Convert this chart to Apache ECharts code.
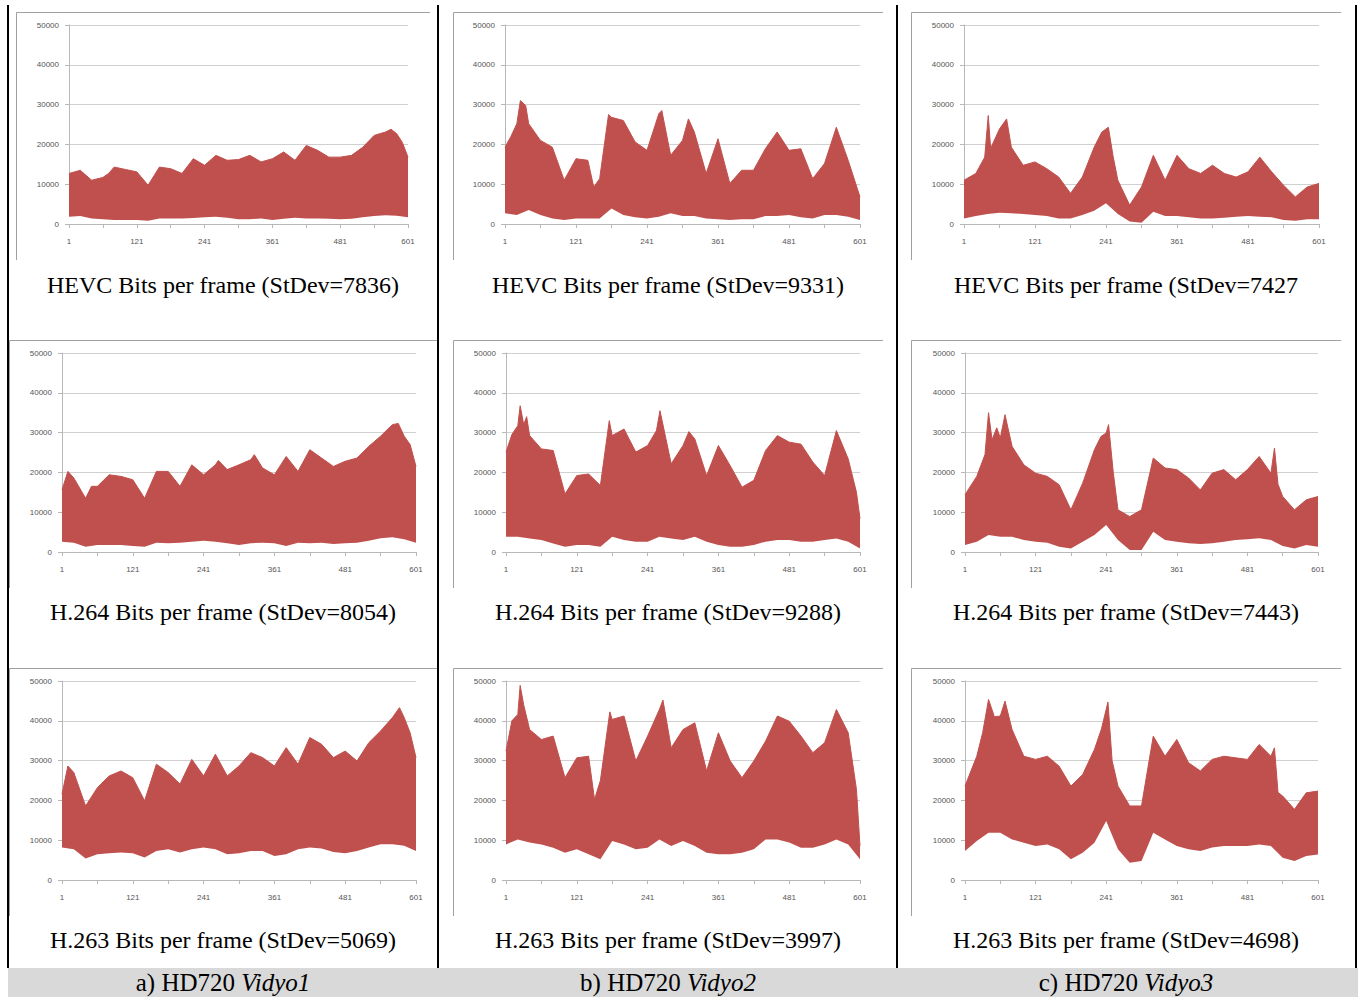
<!DOCTYPE html>
<html>
<head>
<meta charset="utf-8">
<script src="https://cdn.jsdelivr.net/npm/echarts@6/dist/echarts.min.js"></script>
<style>
html, body { margin: 0; padding: 0; background: #fff; }
#chart { width: 1358px; height: 997px; }
</style>
</head>
<body>
<div id="chart"></div>
<script>
// frames where the lower envelope was read (every 20 frames)
var frames = [1,21,41,61,81,101,121,141,161,181,201,221,241,261,281,301,321,341,361,381,401,421,441,461,481,501,521,541,561,581,601];
var xLabelValues = [1,121,241,361,481,601];
var xTickValues = [1,61,121,181,241,301,361,421,481,541,601];

var captions = [
    'HEVC Bits per frame (StDev=7836)', 'HEVC Bits per frame (StDev=9331)', 'HEVC Bits per frame (StDev=7427',
    'H.264 Bits per frame (StDev=8054)', 'H.264 Bits per frame (StDev=9288)', 'H.264 Bits per frame (StDev=7443)',
    'H.263 Bits per frame (StDev=5069)', 'H.263 Bits per frame (StDev=3997)', 'H.263 Bits per frame (StDev=4698)'
];
var columnPrefix = ['a) HD720 ', 'b) HD720 ', 'c) HD720 '];
var columnName = ['Vidyo1', 'Vidyo2', 'Vidyo3'];

// upper envelope (peaks of the bits per frame), [frame, bits]
var hevcV1Upper = [[1,12700],[21,13500],[41,11000],[61,11700],[71,12700],[81,14300],[101,13700],[121,13100],[141,9750],[161,14300],[181,13900],[201,12700],[221,16400],[241,14750],[261,17250],[281,16000],[301,16200],[321,17250],[341,15600],[361,16400],[381,18100],[401,16000],[421,19750],[441,18500],[461,16800],[481,16800],[501,17250],[521,19300],[541,22250],[561,23100],[571,23800],[581,22700],[591,20500],[601,16800]];
var hevcV2Upper = [[1,19300],[11,22000],[21,25200],[27,31000],[36,29750],[41,25200],[61,21000],[81,19300],[101,11000],[121,16400],[141,16000],[151,9300],[161,11400],[176,27500],[181,26800],[201,26000],[221,20600],[241,18500],[261,27700],[266,28500],[281,17250],[301,21000],[311,26400],[321,23100],[341,12700],[361,21400],[381,10200],[401,13500],[421,13500],[441,18900],[461,23100],[481,18500],[501,18900],[521,11400],[541,15200],[561,24300],[581,16000],[601,6800]];
var hevcV3Upper = [[1,11000],[21,12700],[36,16800],[42,27250],[46,19000],[61,23900],[73,26400],[81,19300],[101,14750],[121,15600],[141,13900],[161,11800],[181,7700],[201,11800],[221,19300],[234,23100],[245,24300],[253,17000],[261,11000],[281,4750],[301,9300],[321,17250],[341,11000],[361,17250],[381,13900],[401,12700],[421,14750],[441,12700],[461,11800],[481,13100],[501,16800],[521,13100],[541,9750],[561,6800],[581,9300],[601,10200]];
var h264V1Upper = [[1,15600],[11,20250],[21,18600],[41,13500],[51,16500],[61,16500],[81,19400],[101,19000],[121,18150],[141,13500],[161,20250],[181,20250],[201,16500],[221,21900],[241,19400],[261,21900],[266,23000],[281,20700],[301,21900],[321,23200],[327,24450],[341,21100],[361,19400],[381,24000],[401,20250],[421,25700],[441,23600],[461,21500],[481,22800],[501,23600],[521,26550],[541,29100],[561,32000],[571,32300],[581,29100],[591,27000],[601,21500]];
var h264V2Upper = [[1,25100],[11,29500],[21,31750],[25,36750],[31,32000],[36,34000],[41,29250],[61,25900],[81,25500],[101,14600],[121,19200],[141,19600],[161,16700],[176,33000],[181,29250],[201,30900],[221,25100],[241,26750],[256,30500],[262,35500],[281,22150],[301,26750],[311,30250],[321,28400],[341,19200],[361,26750],[381,21700],[401,16300],[421,18000],[441,25500],[461,29250],[481,27600],[501,27100],[521,22600],[541,19200],[561,30500],[581,23400],[595,15000],[601,8400]];
var h264V3Upper = [[1,14400],[21,19000],[35,24500],[41,35000],[47,28200],[55,31200],[61,28650],[69,34500],[81,26550],[101,21900],[121,19800],[141,19000],[161,16900],[181,10600],[201,17300],[221,25700],[232,29000],[241,29900],[245,32000],[253,20000],[261,10600],[281,8900],[301,10600],[321,23600],[341,21100],[361,20700],[381,18600],[401,15600],[421,19800],[441,20700],[461,18150],[481,20700],[501,24000],[521,19800],[527,26100],[533,17000],[541,13950],[561,10600],[581,13100],[601,13950]];
var h263V1Upper = [[1,21550],[11,28650],[21,27000],[41,18600],[61,23200],[81,26150],[101,27400],[121,25700],[141,19900],[161,29100],[181,27000],[201,24100],[221,30300],[241,26150],[261,31600],[281,26150],[301,28650],[321,32000],[341,30750],[361,28650],[381,33250],[401,29100],[421,35800],[441,34100],[461,30750],[481,32400],[501,29900],[521,34500],[541,37450],[561,40800],[573,43300],[581,40800],[591,37000],[601,30750]];
var h263V2Upper = [[1,32400],[11,40000],[21,41600],[25,48900],[31,44000],[41,37800],[61,35300],[81,36150],[101,25700],[121,30700],[141,31100],[151,20250],[161,25000],[177,42250],[181,40350],[201,41200],[221,29900],[241,36150],[261,42850],[267,45200],[281,33200],[301,37800],[321,39500],[341,27400],[361,37000],[381,29900],[401,25700],[421,29900],[441,34900],[461,41200],[481,39900],[501,36150],[521,32000],[541,34500],[561,42850],[581,37000],[595,22750],[601,8500]];
var h263V3Upper = [[1,23600],[21,31100],[31,37000],[41,45350],[51,41000],[61,41200],[69,44950],[81,37800],[101,31100],[121,30300],[141,31100],[161,28600],[181,23600],[201,26500],[221,32800],[233,38000],[244,44700],[251,30000],[261,23600],[281,18600],[301,18600],[321,36150],[341,31100],[361,35300],[381,29450],[401,27400],[421,30300],[441,31100],[461,30700],[481,30300],[501,34050],[521,31100],[527,33200],[533,22000],[541,21100],[561,17750],[581,21900],[601,22350]];

// lower envelope, one value per entry of frames
var hevcV1Lower = [1800,2000,1400,1200,1000,1000,1000,800,1400,1400,1400,1500,1700,1800,1600,1200,1200,1400,1000,1300,1600,1400,1400,1300,1200,1300,1700,2000,2200,2100,1700];
var hevcV2Lower = [2700,2250,3500,2250,1400,1000,1400,1400,1400,3900,2250,1700,1400,1800,2700,2000,2000,1400,1200,1000,1200,1200,2000,2000,2250,1700,1400,2250,2250,1800,1000];
var hevcV3Lower = [1400,2000,2500,2800,2700,2500,2250,2000,1400,1400,2250,3300,5200,2500,600,300,3100,2000,2000,1700,1400,1400,1600,1800,2000,1800,1700,1000,800,1200,1200];
var h264V1Lower = [2600,2350,1350,1750,1750,1750,1500,1350,2350,2200,2350,2600,2850,2600,2200,1750,2200,2350,2200,1500,2350,2200,2350,2000,2200,2350,2850,3450,3700,3200,2350];
var h264V2Lower = [3850,3850,3400,3000,2150,1350,1750,1750,1350,3850,3000,2600,2600,3850,3400,3000,3850,2600,1750,1350,1350,1750,2600,3000,3000,2600,2600,3000,3400,2600,900];
var h264V3Lower = [1750,2600,4300,3850,3850,3000,2600,2350,1350,900,2600,4300,6800,3000,500,500,5100,3000,2600,2200,2000,2200,2600,3000,3200,3450,3000,1500,900,1750,1350];
var h263V1Lower = [8150,7750,5400,6500,6750,6900,6750,5650,7300,7750,6900,7750,8150,7750,6500,6750,7300,7300,6050,6500,7750,8150,7900,7050,6750,7300,8150,9000,9000,8600,7300];
var h263V2Lower = [8950,10200,9400,8950,8100,6850,7700,6450,5200,9800,8950,7700,8100,10200,8550,9800,8550,6850,6450,6450,6850,7700,10200,10200,9400,8100,8100,8950,10200,8950,5200];
var h263V3Lower = [7300,9800,11900,11900,10200,9350,8550,8950,7700,5200,6850,9350,14800,7700,4350,4800,11900,10200,8550,7700,7300,8150,8550,8550,8550,8950,8550,5600,4800,6000,6400];

var uppers = [hevcV1Upper, hevcV2Upper, hevcV3Upper, h264V1Upper, h264V2Upper, h264V3Upper, h263V1Upper, h263V2Upper, h263V3Upper];
var lowers = [hevcV1Lower, hevcV2Lower, hevcV3Lower, h264V1Lower, h264V2Lower, h264V3Lower, h263V1Lower, h263V2Lower, h263V3Lower];

var RED = '#c0504d';
var GRID_C = '#d0d0d0';
var AXIS_C = '#b8b8b8';

// layout of the panels (pixels)
var plotX = [
    [[69, 408], [505, 860], [964, 1319]],
    [[62, 416], [506, 860], [965, 1318]],
    [[62, 416], [506, 860], [965, 1318]]
];
var plotTop = [25, 353, 681];
var boxX = [
    [[16, 430], [453, 883], [911, 1341]],
    [[9, 438], [453, 883], [911, 1341]],
    [[9, 438], [453, 883], [911, 1341]]
];
var boxTop = [12, 340, 668];
var boxBottom = [260, 588, 916];
var captionY = [285, 612, 940];
var colCenter = [223, 668, 1126];

var grids = [], xAxes = [], yAxes = [], series = [], graphics = [];

for (var i = 0; i < 9; i++) {
    var r = Math.floor(i / 3), c = i % 3;
    var px = plotX[r][c];
    grids.push({ left: px[0], top: plotTop[r], width: px[1] - px[0], height: 199, containLabel: false });
    xAxes.push({
        type: 'value', gridIndex: i, min: 1, max: 601, z: 3,
        axisLine: { show: true, lineStyle: { color: AXIS_C, width: 1 } },
        axisTick: { show: true, length: 4, customValues: xTickValues, lineStyle: { color: AXIS_C } },
        axisLabel: { customValues: xLabelValues, margin: 13, fontSize: 8, color: '#555', fontFamily: 'Liberation Sans' },
        splitLine: { show: false }
    });
    yAxes.push({
        type: 'value', gridIndex: i, min: 0, max: 50000, interval: 10000,
        axisLine: { show: true, lineStyle: { color: AXIS_C, width: 1 } },
        axisTick: { show: true, length: 4, lineStyle: { color: AXIS_C } },
        axisLabel: { margin: 10, fontSize: 8, color: '#555', fontFamily: 'Liberation Sans',
            formatter: function (v) { return String(v); } },
        splitLine: { show: true, lineStyle: { color: GRID_C, width: 1 } }
    });
    series.push({
        type: 'line', xAxisIndex: i, yAxisIndex: i, data: uppers[i],
        symbol: 'none', lineStyle: { color: RED, width: 1 },
        areaStyle: { color: RED, opacity: 1 }
    });
    series.push({
        type: 'line', xAxisIndex: i, yAxisIndex: i,
        data: frames.map(function (f, k) { return [f, lowers[i][k]]; }),
        symbol: 'none', lineStyle: { width: 0 },
        areaStyle: { color: '#fff', opacity: 1 }
    });

    // picture frame around each chart
    var bx = boxX[r][c];
    graphics.push({
        type: 'polyline', silent: true,
        shape: { points: [[bx[0] + 0.5, boxBottom[r]], [bx[0] + 0.5, boxTop[r] + 0.5], [bx[1], boxTop[r] + 0.5]] },
        style: { stroke: '#a0a0a0', lineWidth: 1, fill: null }
    });
    graphics.push({
        type: 'text', silent: true, x: colCenter[c], y: captionY[r],
        style: { text: captions[i], font: '24px "Liberation Serif"', fill: '#000', align: 'center', verticalAlign: 'middle' }
    });
}

// bottom band with the sequence names
graphics.push({ type: 'rect', silent: true, shape: { x: 8, y: 968, width: 1350, height: 29 }, style: { fill: '#d9d9d9' } });
for (var c2 = 0; c2 < 3; c2++) {
    graphics.push({
        type: 'text', silent: true, x: colCenter[c2], y: 982,
        style: {
            text: '{n|' + columnPrefix[c2] + '}{it|' + columnName[c2] + '}',
            align: 'center', verticalAlign: 'middle', fill: '#000',
            rich: {
                n: { font: '25px "Liberation Serif"', fill: '#000' },
                it: { font: 'italic 25px "Liberation Serif"', fill: '#000' }
            }
        }
    });
}
// black column rules
[8, 438, 897, 1356].forEach(function (x) {
    graphics.push({ type: 'line', silent: true, shape: { x1: x, y1: 5, x2: x, y2: 968 }, style: { stroke: '#000', lineWidth: 2 } });
});

var chart = echarts.init(document.getElementById('chart'), null, { renderer: 'svg' });
chart.setOption({
    animation: false,
    grid: grids,
    xAxis: xAxes,
    yAxis: yAxes,
    series: series,
    graphic: { elements: graphics }
});
</script>
</body>
</html>
